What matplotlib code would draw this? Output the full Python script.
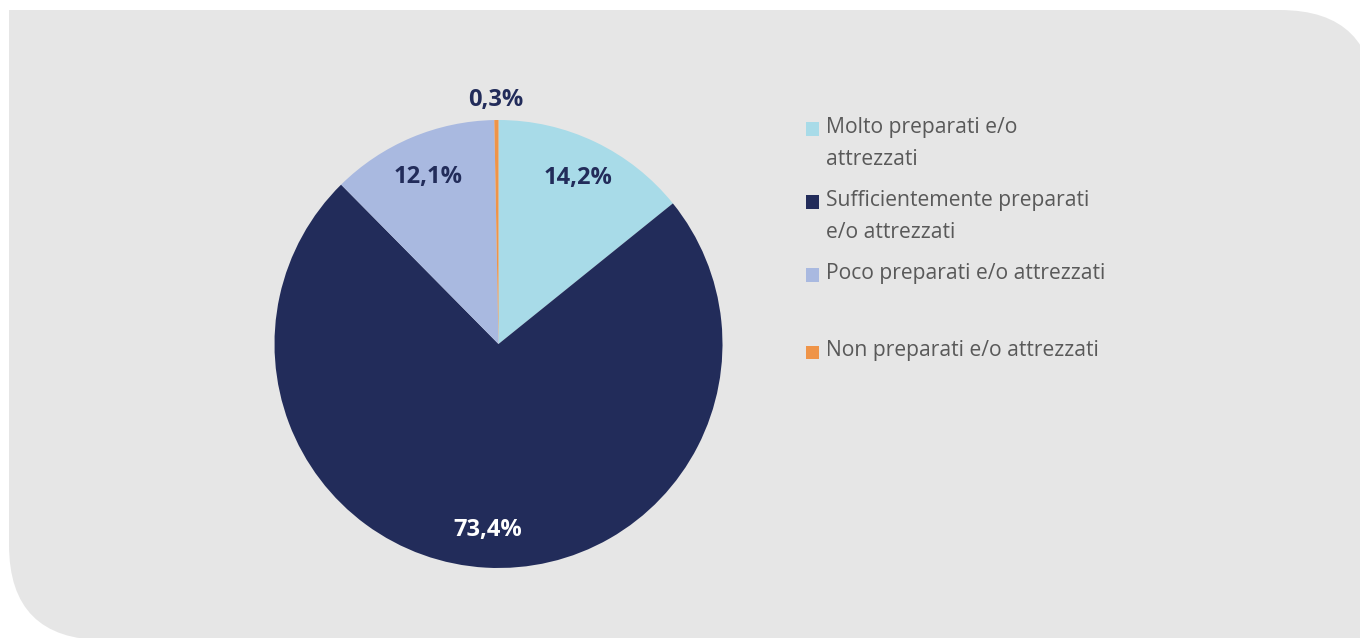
import numpy as np
import matplotlib
matplotlib.use("Agg")
import matplotlib.pyplot as plt
from matplotlib.patches import FancyBboxPatch, Rectangle

categories = ["Molto preparati e/o\nattrezzati",
              "Sufficientemente preparati\ne/o attrezzati",
              "Poco preparati e/o attrezzati",
              "Non preparati e/o attrezzati"]
values = [14.2, 73.4, 12.1, 0.3]
value_labels = ["14,2%", "73,4%", "12,1%", "0,3%"]
colors = ["#a8dbe8", "#222c5a", "#a9b9e0", "#ef9448"]
label_colors = ["#222c5a", "#ffffff", "#222c5a", "#222c5a"]
label_dist = [0.82, 0.83, 0.81, 1.09]

W, H = 1360, 638
fig = plt.figure(figsize=(W / 100, H / 100), dpi=100)
fig.patch.set_facecolor("white")

# grey panel: rounded top-right and bottom-left corners
bg = "#e6e6e6"
tr = fig.transFigure
px = lambda x, y: (x / W, y / H)
panel = FancyBboxPatch(px(9, -2), 1366 / W, 630 / H,
                       boxstyle="round,pad=0,rounding_size=0.07",
                       transform=tr, facecolor=bg, edgecolor="none",
                       mutation_aspect=W / H, zorder=-5)
fig.patches.append(panel)
fig.patches.append(Rectangle(px(9, 528), 100 / W, 100 / H, transform=tr,
                             facecolor=bg, edgecolor="none", zorder=-5))
fig.patches.append(Rectangle(px(1260, -2), 120 / W, 100 / H, transform=tr,
                             facecolor=bg, edgecolor="none", zorder=-5))

# pie
cx, cy, r = 498.5, H - 344, 224
ax = fig.add_axes([(cx - r) / W, (cy - r) / H, 2 * r / W, 2 * r / H])
ax.set_zorder(2)
ax.patch.set_visible(False)
wedges, _ = ax.pie(values, colors=colors, startangle=90, counterclock=False,
                   radius=1, wedgeprops=dict(linewidth=0))
ax.set_xlim(-1, 1)
ax.set_ylim(-1, 1)
ax.set_aspect("equal")
ax.axis("off")

for w, lab, col, d in zip(wedges, value_labels, label_colors, label_dist):
    ang = np.deg2rad((w.theta1 + w.theta2) / 2)
    ax.text(d * np.cos(ang), d * np.sin(ang), lab, ha="center", va="center",
            fontsize=17, fontweight="bold", color=col, family="Open Sans",
            clip_on=False)

# legend
leg_y = [129, 202, 275, 352]
for lab, col, y in zip(categories, colors, leg_y):
    fig.patches.append(Rectangle(px(806, H - y - 6.5), 13 / W, 13 / H,
                                 transform=tr, facecolor=col, edgecolor="none"))
    fig.text(826 / W, (H - y + 12) / H, lab, ha="left", va="top",
             fontsize=15.2, color="#595959", family="Open Sans",
             linespacing=1.7)

fig.savefig("out.png", dpi=100, facecolor="white")
